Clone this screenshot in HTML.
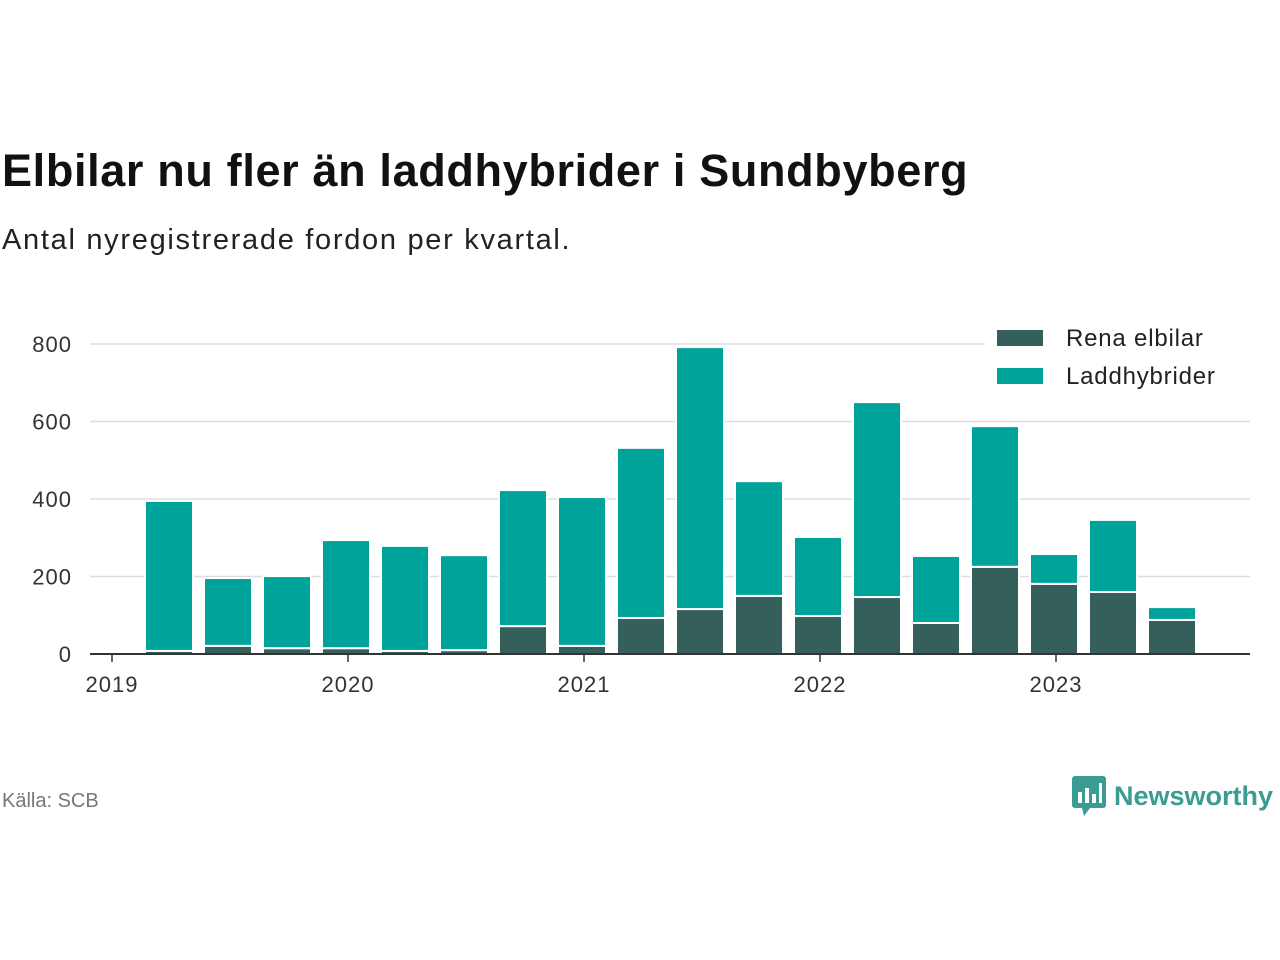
<!DOCTYPE html>
<html><head><meta charset="utf-8"><style>
body{margin:0;width:1280px;height:960px;background:#fff;font-family:"Liberation Sans",sans-serif;position:relative;overflow:hidden}
#title{position:absolute;left:2px;top:145px;font-size:45px;letter-spacing:0.65px;font-weight:bold;color:#111;white-space:nowrap}
#sub{position:absolute;left:2px;top:224px;font-size:29px;letter-spacing:1.7px;color:#222;white-space:nowrap}
#src{position:absolute;left:2px;top:790px;font-size:20px;color:#777}
#logo{position:absolute;left:1072px;top:776px;display:flex;align-items:center;gap:8px;color:#3a9c93;font-size:27px;font-weight:bold}
</style></head><body>
<div id="title">Elbilar nu fler än laddhybrider i Sundbyberg</div>
<div id="sub">Antal nyregistrerade fordon per kvartal.</div>
<svg id="chart" width="1280" height="960" style="position:absolute;left:0;top:0"></svg>
<div id="src">Källa: SCB</div>
<div id="logo"><svg width="34" height="40" viewBox="0 0 34 40"><rect x="0" y="0" width="34" height="32" rx="3" fill="#3a9c93"/><polygon points="10,32 18,32 12,40" fill="#3a9c93"/><rect x="6" y="16" width="4" height="11" fill="#fff"/><rect x="13" y="12" width="4" height="15" fill="#fff"/><rect x="20" y="18" width="4" height="9" fill="#fff"/><rect x="27" y="7" width="3" height="20" fill="#fff"/></svg><span>Newsworthy</span></div>
<script>
const elbilar=[8,21,15,15,8,10,72,21,93,116,150,98,147,80,225,181,160,88];
const totals=[395,196,201,294,279,255,423,405,532,792,446,302,650,253,588,258,346,121];
const laddhybrider=totals.map((t,i)=>t-elbilar[i]);
const yTicks=[0,200,400,600,800];
const years=["2019","2020","2021","2022","2023"];
const NS="http://www.w3.org/2000/svg";
const svg=document.getElementById('chart');
const y=v=>654-v*0.3875;
const x=i=>112+59*(i+1)-2;
const yearX=k=>112+236*k;
function mk(t,a){const e=document.createElementNS(NS,t);for(const k in a)e.setAttribute(k,a[k]);svg.appendChild(e);return e;}
yTicks.forEach(v=>{
 if(v>0){const g=mk('line',{x1:90,x2:1250,y1:y(v),y2:y(v),stroke:'#ddd','stroke-width':1.5});
 
 }
 const t=mk('text',{x:72,y:y(v)+8,'text-anchor':'end','font-size':22,'letter-spacing':1,fill:'#333','font-family':'Liberation Sans, sans-serif'});
 t.textContent=v;
 
 
});
elbilar.forEach((e,i)=>{
 const w=48,cx=x(i);
 const r1=mk('rect',{x:cx-w/2,y:y(e),width:w,height:y(0)-y(e),fill:'#355f5b',stroke:'#fff','stroke-width':2});
 
 
 const l=laddhybrider[i];
 const r2=mk('rect',{x:cx-w/2,y:y(e+l),width:w,height:y(e)-y(e+l),fill:'#00a39a',stroke:'#fff','stroke-width':2});
 
 
});
const ax=mk('line',{x1:90,x2:1250,y1:654,y2:654,stroke:'#333','stroke-width':2});


years.forEach((yr,k)=>{
 const tk=mk('line',{x1:yearX(k),x2:yearX(k),y1:654,y2:662,stroke:'#333','stroke-width':1.5});
 
 
 const t=mk('text',{x:yearX(k),y:692,'text-anchor':'middle','font-size':22,'letter-spacing':1,fill:'#333','font-family':'Liberation Sans, sans-serif'});
 t.textContent=yr;
 
 
});
const bg=mk('rect',{x:985,y:318,width:265,height:80,fill:'#fff'});


[["Rena elbilar","#355f5b",330],["Laddhybrider","#00a39a",368]].forEach(([n,c,yy])=>{
 const s=mk('rect',{x:997,y:yy,width:46,height:16,fill:c});
 
 
 const t=mk('text',{x:1066,y:yy+16,'font-size':24,'letter-spacing':0.8,fill:'#222','font-family':'Liberation Sans, sans-serif'});
 t.textContent=n;
 
 
});
</script>
</body></html>
